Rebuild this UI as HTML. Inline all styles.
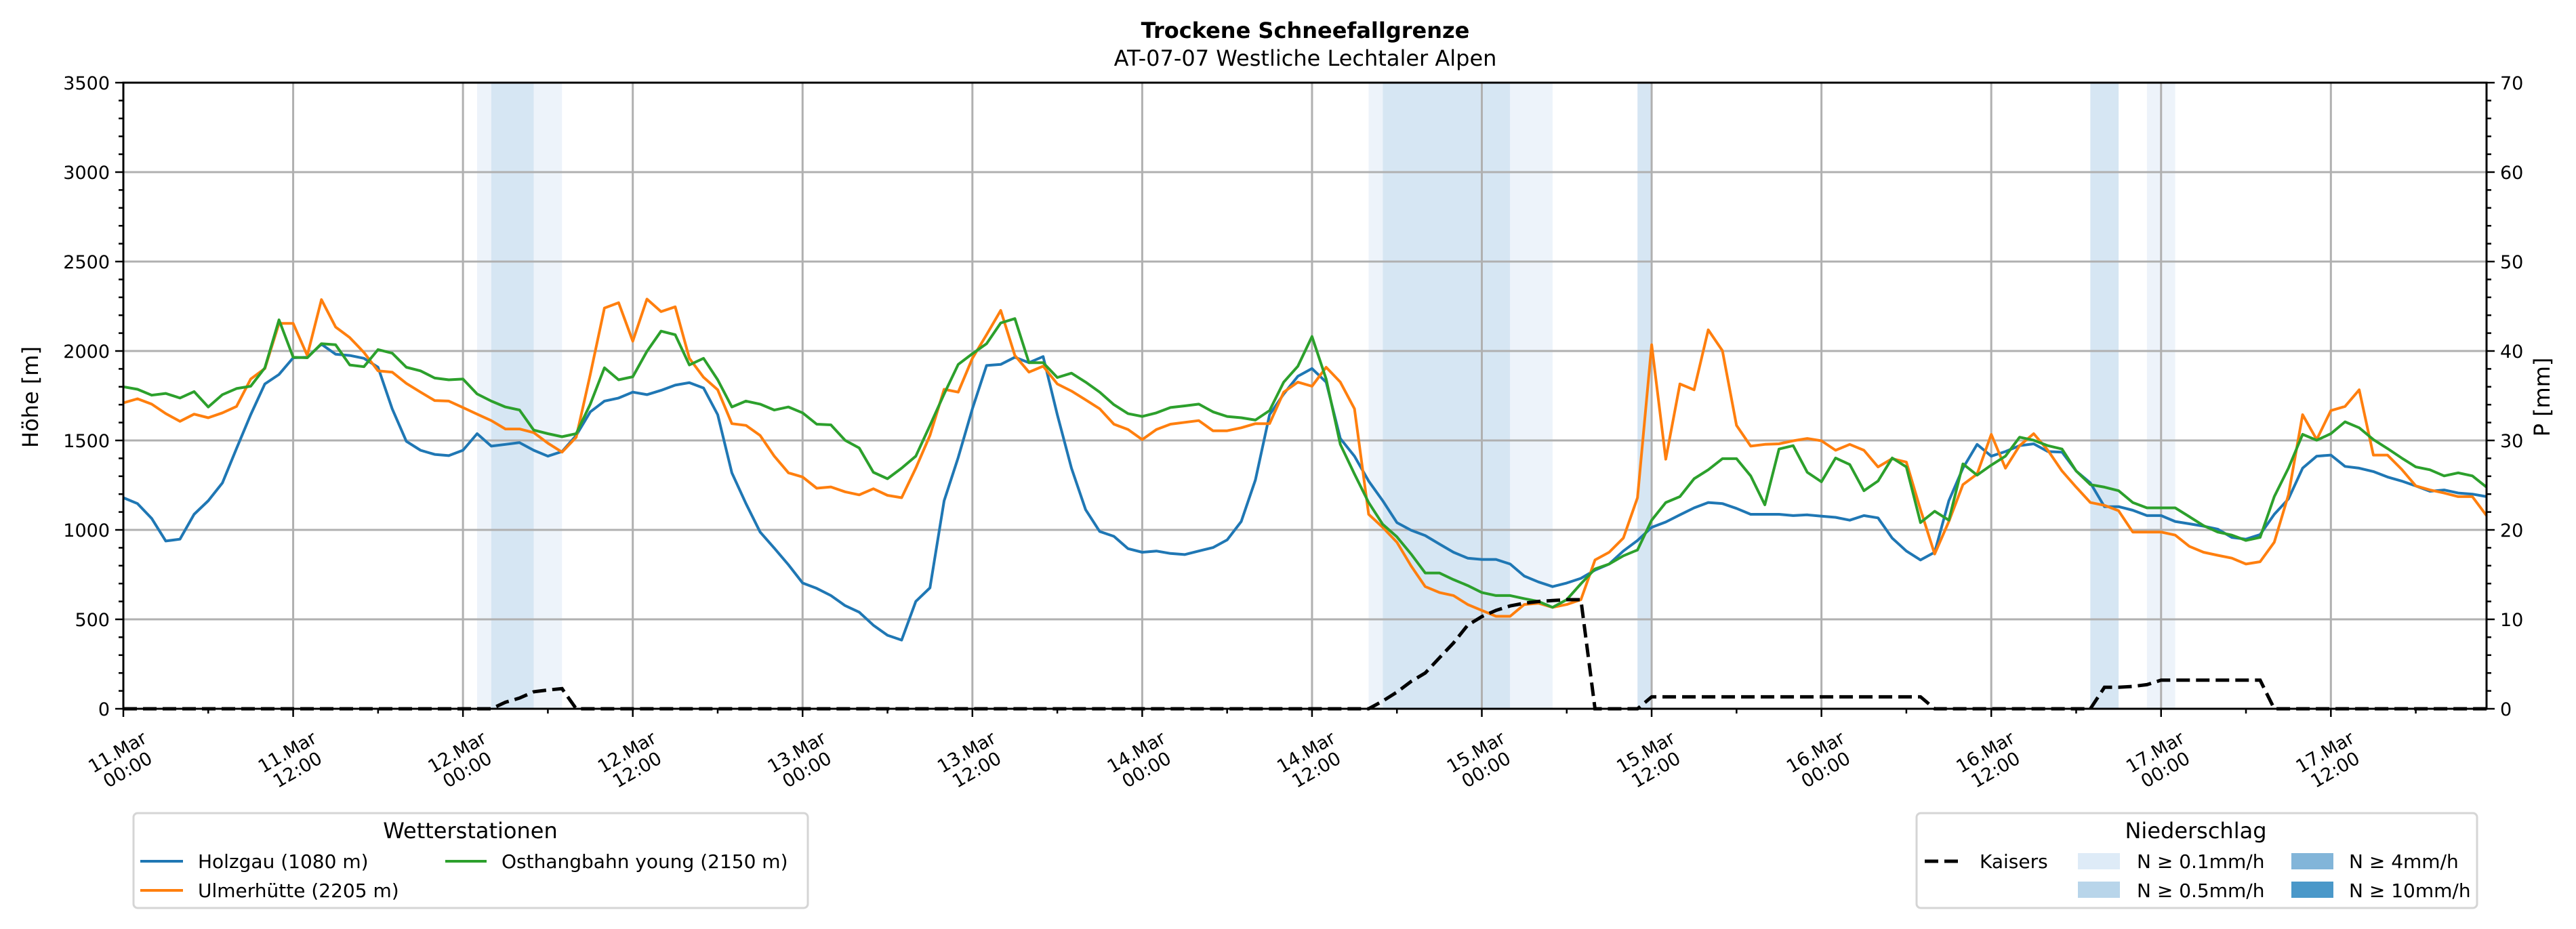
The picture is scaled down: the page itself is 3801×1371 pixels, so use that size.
<!DOCTYPE html>
<html><head><meta charset="utf-8">
<style>
html,body{margin:0;padding:0;background:#fff;}
svg{display:block;font-family:"DejaVu Sans","Liberation Sans",sans-serif;}
</style></head>
<body>
<svg id="chart" width="3801" height="1371" viewBox="0 0 3801 1371" xmlns="http://www.w3.org/2000/svg">
<g id="bands"></g>
<g id="grid"></g>
<g id="series"></g>
<g id="axes"></g>
<text x="1926" y="56" text-anchor="middle" font-size="32" font-weight="bold">Trockene Schneefallgrenze</text>
<text x="1926" y="97" text-anchor="middle" font-size="32">AT-07-07 Westliche Lechtaler Alpen</text>
<text transform="translate(56,586) rotate(-90)" text-anchor="middle" font-size="32">Höhe [m]</text>
<text transform="translate(3762,586) rotate(-90)" text-anchor="middle" font-size="32">P [mm]</text>

<g>
<rect x="197" y="1200" width="995" height="140" rx="6" fill="#fff" stroke="#d5d5d5" stroke-width="3"/>
<text x="694" y="1237" text-anchor="middle" font-size="32">Wetterstationen</text>
<line x1="207" y1="1271" x2="270" y2="1271" stroke="#1f77b4" stroke-width="4"/>
<text x="292" y="1281" font-size="28">Holzgau (1080 m)</text>
<line x1="207" y1="1314" x2="270" y2="1314" stroke="#ff7f0e" stroke-width="4"/>
<text x="292" y="1324" font-size="28">Ulmerhütte (2205 m)</text>
<line x1="657" y1="1271" x2="718" y2="1271" stroke="#2ca02c" stroke-width="4"/>
<text x="740" y="1281" font-size="28">Osthangbahn young (2150 m)</text>
</g>
<g>
<rect x="2828" y="1200" width="827" height="140" rx="6" fill="#fff" stroke="#d5d5d5" stroke-width="3"/>
<text x="3240" y="1237" text-anchor="middle" font-size="32">Niederschlag</text>
<line x1="2840" y1="1271" x2="2894" y2="1271" stroke="#000" stroke-width="5" stroke-dasharray="20 9"/>
<text x="2921" y="1281" font-size="28">Kaisers</text>
<rect x="3066" y="1259" width="62" height="24" fill="#deebf7"/>
<text x="3153" y="1281" font-size="28">N ≥ 0.1mm/h</text>
<rect x="3066" y="1301" width="62" height="24" fill="#b8d5ea"/>
<text x="3153" y="1324" font-size="28">N ≥ 0.5mm/h</text>
<rect x="3381" y="1259" width="62" height="24" fill="#82b5d9"/>
<text x="3466" y="1281" font-size="28">N ≥ 4mm/h</text>
<rect x="3381" y="1301" width="62" height="24" fill="#4a98c9"/>
<text x="3466" y="1324" font-size="28">N ≥ 10mm/h</text>
</g>
</svg>
<script>
// hourly data, hour 0 = 11.Mar 00:00
const holzgau = [1180,1147,1064,938,948,1087,1163,1263,1455,1644,1816,1869,1962,1965,2038,1982,1975,1959,1909,1677,1495,1445,1422,1415,1445,1538,1468,1478,1488,1445,1412,1438,1528,1660,1720,1737,1770,1756,1780,1809,1823,1793,1644,1319,1147,988,898,805,703,673,633,577,540,467,411,384,600,676,1163,1405,1677,1919,1925,1965,1935,1969,1644,1345,1113,991,964,895,875,882,868,862,882,901,944,1047,1279,1644,1760,1859,1902,1826,1511,1412,1273,1163,1041,998,968,921,875,842,835,835,809,742,709,683,703,729,775,809,882,941,1014,1044,1084,1123,1153,1147,1120,1087,1087,1087,1080,1084,1077,1070,1054,1080,1067,954,882,832,875,1163,1345,1478,1412,1438,1471,1481,1438,1435,1329,1263,1130,1130,1110,1080,1080,1047,1034,1021,1004,958,948,974,1087,1173,1345,1412,1418,1355,1345,1326,1296,1273,1246,1216,1223,1206,1200,1186];
const ulmerhuette = [1710,1733,1703,1650,1607,1647,1627,1654,1690,1843,1902,2154,2154,1975,2287,2134,2075,1992,1889,1882,1819,1770,1723,1720,1684,1647,1611,1564,1564,1544,1485,1435,1518,1869,2240,2270,2055,2290,2220,2247,1959,1853,1783,1594,1584,1528,1412,1319,1296,1233,1240,1213,1196,1230,1193,1180,1345,1528,1786,1770,1959,2091,2227,1975,1882,1915,1816,1776,1727,1677,1591,1561,1505,1561,1591,1601,1611,1554,1554,1571,1594,1594,1770,1826,1803,1909,1826,1677,1087,1014,931,799,683,650,633,583,550,517,517,583,590,567,583,610,832,875,954,1180,2035,1395,1816,1783,2118,2002,1584,1468,1478,1481,1498,1511,1498,1445,1478,1445,1352,1398,1379,1113,865,1047,1253,1312,1534,1345,1471,1538,1445,1329,1239,1153,1137,1107,988,988,988,971,908,875,858,842,809,822,931,1196,1644,1505,1667,1690,1783,1418,1418,1339,1246,1223,1206,1186,1186,1080];
const osthangbahn = [1800,1786,1753,1763,1737,1773,1687,1756,1790,1803,1906,2174,1965,1962,2041,2035,1922,1912,2008,1988,1909,1889,1849,1839,1843,1760,1720,1687,1670,1558,1538,1521,1538,1703,1906,1839,1856,1998,2111,2091,1922,1959,1839,1687,1720,1703,1670,1687,1654,1591,1587,1501,1458,1322,1286,1345,1412,1584,1760,1925,1985,2041,2157,2181,1935,1935,1852,1876,1826,1770,1700,1650,1634,1654,1684,1693,1703,1660,1634,1627,1614,1667,1826,1915,2081,1843,1478,1312,1153,1031,961,865,759,759,722,689,650,633,633,616,600,567,610,699,782,809,855,888,1054,1153,1186,1286,1336,1398,1398,1302,1140,1452,1471,1322,1269,1402,1365,1219,1273,1402,1352,1041,1104,1054,1369,1306,1362,1412,1518,1501,1471,1452,1329,1253,1239,1219,1153,1123,1123,1123,1074,1024,988,971,941,958,1186,1345,1534,1501,1538,1604,1571,1505,1455,1402,1352,1336,1302,1319,1302,1239];
const kaisersHours = [0,26,27,28,29,30,31,32,88,89,90,91,92,93,94,95,96,97,98,99,100,101,102,103,104,107,108,127,128,139,140,141,142,143,144,151,152,167];
const kaisersMm    = [0,0,0.73,1.2,1.9,2.1,2.25,0,0,0.86,1.86,3.05,4.0,5.7,7.36,9.35,10.3,11.0,11.5,11.8,12.0,12.1,12.2,12.2,0,0,1.33,1.33,0,0,2.4,2.4,2.5,2.7,3.2,3.2,0,0];
const bandStart = [25,26,29,88,89,98,107,139,143];
const bandEnd   = [26,29,31,89,98,101,108,141,145];
const bandLevel = [1,2,1,1,2,1,2,2,1];
const xTickLabels = ["11.Mar|00:00","11.Mar|12:00","12.Mar|00:00","12.Mar|12:00","13.Mar|00:00","13.Mar|12:00","14.Mar|00:00","14.Mar|12:00","15.Mar|00:00","15.Mar|12:00","16.Mar|00:00","16.Mar|12:00","17.Mar|00:00","17.Mar|12:00"];
const yTicks = [0,500,1000,1500,2000,2500,3000,3500];
const y2Ticks = [0,10,20,30,40,50,60,70];

const L=182,R=3669,T=122,B=1046,HMAX=167;
const NS="http://www.w3.org/2000/svg";
function X(h){return L+(R-L)*h/HMAX;}
function Y(v){return B-(B-T)*v/3500;}
function Y2(v){return B-(B-T)*v/70;}
function mk(tag,attrs,parent){const e=document.createElementNS(NS,tag);for(const k in attrs)e.setAttribute(k,attrs[k]);parent.appendChild(e);return e;}

const bands=document.getElementById('bands');
bandStart.forEach((s,i)=>{
  const r=mk('rect',{x:X(s),y:T,width:X(bandEnd[i])-X(s),height:B-T,fill:bandLevel[i]===2?'#d6e6f3':'#edf3fa'},bands);
  
  
});

const grid=document.getElementById('grid');
xTickLabels.forEach((t,i)=>{const x=X(i*12);mk('line',{x1:x,y1:T,x2:x,y2:B,stroke:'#b0b0b0','stroke-width':3},grid);});
yTicks.forEach(v=>{mk('line',{x1:L,y1:Y(v),x2:R,y2:Y(v),stroke:'#b0b0b0','stroke-width':3},grid);});

const ser=document.getElementById('series');
function line(data,color,name){
  const p=data.map((v,i)=>X(i).toFixed(1)+','+Y(v).toFixed(1)).join(' ');
  const e=mk('polyline',{points:p,fill:'none',stroke:color,'stroke-width':4,'stroke-linejoin':'round'},ser);
  
  
}
line(holzgau,'#1f77b4','line-holzgau');
line(ulmerhuette,'#ff7f0e','line-ulmerhuette');
line(osthangbahn,'#2ca02c','line-osthangbahn');
const kp=kaisersHours.map((h,i)=>X(h).toFixed(1)+','+Y2(kaisersMm[i]).toFixed(1)).join(' ');
const kl=mk('polyline',{points:kp,fill:'none',stroke:'#000','stroke-width':5,'stroke-dasharray':'20 9'},ser);



const ax=document.getElementById('axes');
mk('rect',{x:L,y:T,width:R-L,height:B-T,fill:'none',stroke:'#000','stroke-width':3},ax);
for(let h=0;h<=HMAX;h+=6){const x=X(h);const len=(h%12===0)?12:7;mk('line',{x1:x,y1:B,x2:x,y2:B+len,stroke:'#000','stroke-width':2.5},ax);}
for(let v=0;v<=3500;v+=100){const len=(v%500===0)?12:7;mk('line',{x1:L-len,y1:Y(v),x2:L,y2:Y(v),stroke:'#000','stroke-width':2.5},ax);}
for(let v=0;v<=70;v+=2){const len=(v%10===0)?12:7;mk('line',{x1:R,y1:Y2(v),x2:R+len,y2:Y2(v),stroke:'#000','stroke-width':2.5},ax);}
yTicks.forEach(v=>{const t=mk('text',{x:L-20,y:Y(v)+10,'text-anchor':'end','font-size':27},ax);t.textContent=v;
  
  });
y2Ticks.forEach(v=>{const t=mk('text',{x:R+20,y:Y2(v)+10,'font-size':27},ax);t.textContent=v;
  
  });
xTickLabels.forEach((lab,i)=>{
  const x=X(i*12);const parts=lab.split('|');
  const t=mk('text',{transform:'translate('+(x-4)+',1118) rotate(-30)','text-anchor':'middle','font-size':27},ax);
  
  
  const a=mk('tspan',{x:0,y:0},t);a.textContent=parts[0];
  const b=mk('tspan',{x:0,y:30},t);b.textContent=parts[1];
});
</script>
</body></html>
